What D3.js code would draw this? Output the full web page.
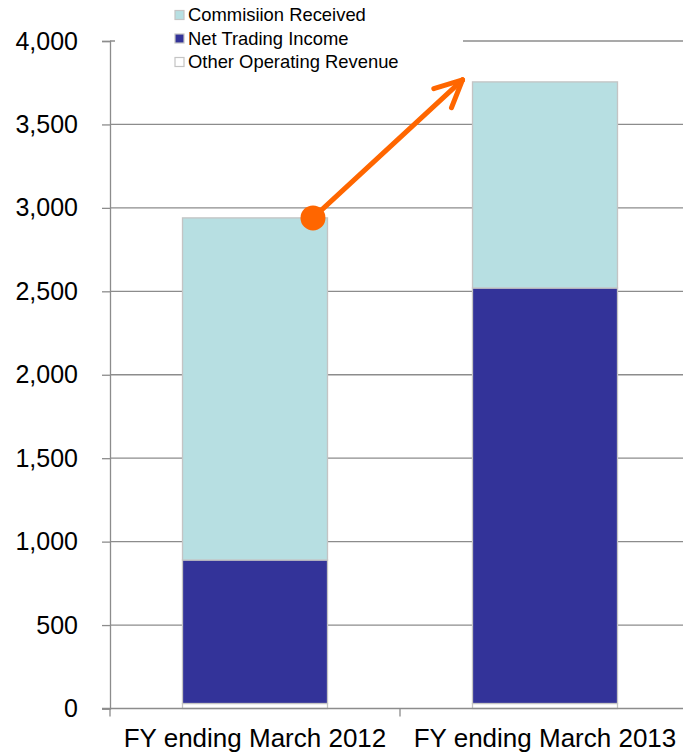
<!DOCTYPE html>
<html>
<head>
<meta charset="utf-8">
<script src="https://cdn.jsdelivr.net/npm/d3@7"></script>
<style>
  body { margin: 0; background: #fff; }
  svg text { font-family: "Liberation Sans", Arial, sans-serif; fill: #000; }
</style>
</head>
<body>
<svg id="chart" width="683" height="754"></svg>
<script>
"use strict"
// data
var categories = ["FY ending March 2012", "FY ending March 2013"];
var seriesNames = ["Other Operating Revenue", "Net Trading Income", "Commisiion Received"];
var otherRevenue = [30, 30];
var netTrading = [860, 2490];
var commission = [2050, 1235];
var yTicks = [0, 500, 1000, 1500, 2000, 2500, 3000, 3500, 4000];

var colors = {
  "Commisiion Received": "#b7dfe2",
  "Net Trading Income": "#333399",
  "Other Operating Revenue": "#ffffff"
};

var svg = d3.select("svg#chart"),
    width = +svg.attr("width"),
    height = +svg.attr("height");

var mLeft = 110, mRight = 690, mTop = 41, mBottom = 708.5;

var x = d3.scaleBand()
    .domain(categories)
    .range([mLeft, mRight])
    .paddingInner(0.5)
    .paddingOuter(0.25);

var y = d3.scaleLinear()
    .domain([0, 4000])
    .range([mBottom, mTop]);

var rows = categories.map(function(c, i) {
  return {
    cat: c,
    "Other Operating Revenue": otherRevenue[i],
    "Net Trading Income": netTrading[i],
    "Commisiion Received": commission[i]
  };
});

var stacked = d3.stack().keys(seriesNames)(rows);

// gridlines
svg.append("g")
    .attr("class", "grid")
  .selectAll("line")
    .data(yTicks.filter(function(t) { return t > 0; }))
  .enter().append("line")
    .attr("x1", mLeft).attr("x2", width)
    .attr("y1", function(d) { return y(d); })
    .attr("y2", function(d) { return y(d); })
    .attr("stroke", "#8c8c8c")
    .attr("stroke-width", 1.3);

// y axis
var yAxis = svg.append("g")
    .attr("transform", "translate(" + mLeft + ",0)")
    .call(d3.axisLeft(y).tickValues(yTicks).tickFormat(d3.format(",")).tickSize(8).tickPadding(24));
yAxis.select(".domain").attr("stroke", "#8c8c8c").attr("stroke-width", 1.3);
yAxis.selectAll(".tick line").attr("stroke", "#8c8c8c").attr("stroke-width", 1.3);
yAxis.selectAll(".tick text")
    .attr("font-size", "25px")
    .attr("font-family", "Liberation Sans, Arial, sans-serif")
    .attr("fill", "#000");

// bars
svg.append("g")
    .attr("class", "bars")
  .selectAll("g")
    .data(stacked)
  .enter().append("g")
    .attr("fill", function(d) { return colors[d.key]; })
  .selectAll("rect")
    .data(function(d) { return d; })
  .enter().append("rect")
    .attr("x", function(d) { return x(d.data.cat); })
    .attr("width", x.bandwidth())
    .attr("y", function(d) { return y(d[1]); })
    .attr("height", function(d) { return y(d[0]) - y(d[1]); })
    .attr("stroke", "#c4c4c4")
    .attr("stroke-width", 1.3);

// x axis
var xg = svg.append("g");
xg.append("line")
    .attr("x1", mLeft - 8).attr("x2", width)
    .attr("y1", mBottom).attr("y2", mBottom)
    .attr("stroke", "#8c8c8c").attr("stroke-width", 1.3);
var step = x.step();
xg.selectAll("line.tk")
    .data(d3.range(categories.length + 1))
  .enter().append("line")
    .attr("class", "tk")
    .attr("x1", function(i) { return mLeft + i * step; })
    .attr("x2", function(i) { return mLeft + i * step; })
    .attr("y1", mBottom).attr("y2", mBottom + 8)
    .attr("stroke", "#8c8c8c").attr("stroke-width", 1.3);
xg.selectAll("text")
    .data(categories)
  .enter().append("text")
    .attr("x", function(d) { return x(d) + x.bandwidth() / 2; })
    .attr("y", 747)
    .attr("text-anchor", "middle")
    .attr("font-size", "26px")
    .text(function(d) { return d; });

// legend (white box covers top gridline)
var legend = svg.append("g");
legend.append("rect")
    .attr("x", mLeft + 5).attr("y", 0)
    .attr("width", 348).attr("height", 74)
    .attr("fill", "#fff");
var legendOrder = ["Commisiion Received", "Net Trading Income", "Other Operating Revenue"];
var li = legend.selectAll("g.item")
    .data(legendOrder)
  .enter().append("g")
    .attr("class", "item")
    .attr("transform", function(d, i) { return "translate(175," + (15 + i * 23.5) + ")"; });
li.append("rect")
    .attr("x", 0).attr("y", -4.5)
    .attr("width", 9).attr("height", 9)
    .attr("fill", function(d) { return colors[d]; })
    .attr("stroke", "#c4c4c4")
    .attr("stroke-width", 1.2);
li.append("text")
    .attr("x", 13)
    .attr("y", 0)
    .attr("dy", "0.35em")
    .attr("font-size", "18.4px")
    .text(function(d) { return d; });

// growth arrow from 2012 total to 2013 total
var total0 = otherRevenue[0] + netTrading[0] + commission[0];
var total1 = otherRevenue[1] + netTrading[1] + commission[1];
var x0 = x(categories[0]) + x.bandwidth() * 0.9, y0 = y(total0);
var x1 = x(categories[1]) - 10, y1 = y(total1) - 2;
var orange = "#ff6600";
var arrow = svg.append("g");
arrow.append("line")
    .attr("x1", x0).attr("y1", y0)
    .attr("x2", x1).attr("y2", y1)
    .attr("stroke", orange).attr("stroke-width", 5)
    .attr("stroke-linecap", "round");
var ang = Math.atan2(y1 - y0, x1 - x0), hl = 30, ha = Math.PI / 7;
[ang + Math.PI - ha, ang + Math.PI + ha].forEach(function(a) {
  arrow.append("line")
      .attr("x1", x1).attr("y1", y1)
      .attr("x2", x1 + hl * Math.cos(a)).attr("y2", y1 + hl * Math.sin(a))
      .attr("stroke", orange).attr("stroke-width", 5)
      .attr("stroke-linecap", "round");
});
arrow.append("circle")
    .attr("cx", x0).attr("cy", y0)
    .attr("r", 12.5)
    .attr("fill", orange);
</script>
</body>
</html>
